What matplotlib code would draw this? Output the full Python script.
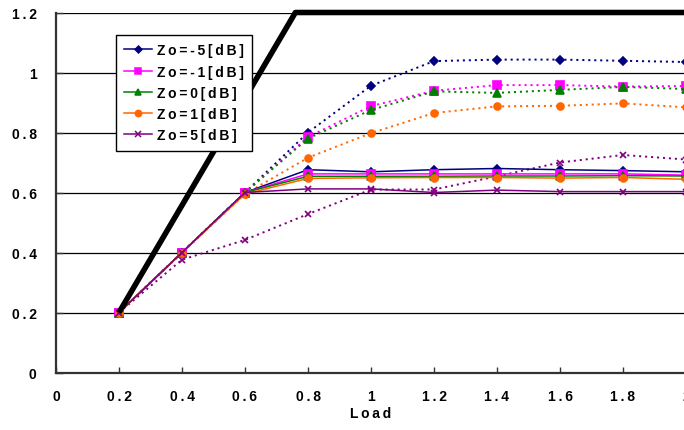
import matplotlib
matplotlib.use("Agg")
import matplotlib.pyplot as plt
from matplotlib.lines import Line2D

plt.rcParams['font.family'] = ['Liberation Sans', 'DejaVu Sans']
plt.rcParams['font.weight'] = 'bold'
plt.rcParams['lines.scale_dashes'] = False

# Load points
load = [0.2, 0.4, 0.6, 0.8, 1.0, 1.2, 1.4, 1.6, 1.8, 2.0]

# Upper limit line
limit_x = [0.2, 0.76, 2.0]
limit_y = [0.2, 1.2, 1.2]

labels = ["Zo=-5[dB]", "Zo=-1[dB]", "Zo=0[dB]", "Zo=1[dB]", "Zo=5[dB]"]
colors = ["#000080", "#FF00FF", "#008000", "#FF6600", "#800080"]
markers = ["D", "s", "^", "o", "x"]
msizes = [4.0, 5.5, 5.5, 5.0, 5.0]

# Solid curves
solid = [
    [0.2, 0.4, 0.6, 0.676, 0.669, 0.676, 0.680, 0.676, 0.673, 0.669],
    [0.2, 0.4, 0.6, 0.662, 0.662, 0.662, 0.662, 0.662, 0.662, 0.658],
    [0.2, 0.4, 0.6, 0.654, 0.654, 0.654, 0.655, 0.655, 0.656, 0.655],
    [0.2, 0.4, 0.595, 0.647, 0.649, 0.650, 0.650, 0.648, 0.650, 0.644],
    [0.2, 0.4, 0.6, 0.612, 0.612, 0.600, 0.608, 0.603, 0.603, 0.603],
]

# Dotted curves
dotted = [
    [0.2, 0.4, 0.6, 0.800, 0.956, 1.038, 1.043, 1.043, 1.039, 1.035],
    [0.2, 0.4, 0.6, 0.785, 0.888, 0.939, 0.958, 0.958, 0.953, 0.955],
    [0.2, 0.4, 0.6, 0.780, 0.875, 0.937, 0.932, 0.942, 0.952, 0.945],
    [0.2, 0.4, 0.595, 0.716, 0.798, 0.865, 0.887, 0.889, 0.897, 0.884],
    [0.2, 0.376, 0.442, 0.528, 0.610, 0.610, 0.654, 0.700, 0.725, 0.710],
]

xticks = [0, 0.2, 0.4, 0.6, 0.8, 1.0, 1.2, 1.4, 1.6, 1.8, 2.0]
xticklabels = ["0", "0.2", "0.4", "0.6", "0.8", "1", "1.2", "1.4", "1.6", "1.8", "2"]
yticks = [0, 0.2, 0.4, 0.6, 0.8, 1.0, 1.2]
yticklabels = ["0", "0.2", "0.4", "0.6", "0.8", "1", "1.2"]


def spaced(s):
    return "\u2009".join(s)


fig = plt.figure(figsize=(6.84, 4.31), dpi=100)
ax = fig.add_axes([56 / 684, 1 - 373.5 / 431, 630 / 684, 360 / 431])
ax.set_xlim(0, 2)
ax.set_ylim(0, 1.2)

for yv in yticks[1:]:
    ax.axhline(yv, color="black", lw=0.9, zorder=1)

for i in range(len(labels)):
    ax.plot(load, dotted[i], color=colors[i], lw=1.4, dashes=(1.5, 2.8),
            marker=markers[i], ms=msizes[i], mew=1.2, zorder=3)
for i in range(len(labels)):
    ax.plot(load, solid[i], color=colors[i], lw=1.1,
            marker=markers[i], ms=msizes[i], mew=1.2, zorder=3)

ax.plot(limit_x, limit_y, color="black", lw=4.0, solid_capstyle="butt",
        clip_on=False, zorder=4)

for side in ["left", "bottom"]:
    ax.spines[side].set_color("#333333")
    ax.spines[side].set_linewidth(1.6)
for side in ["top", "right"]:
    ax.spines[side].set_visible(False)

ax.set_xticks(xticks)
ax.set_xticklabels([spaced(t) for t in xticklabels], fontsize=10, fontweight="bold")
ax.set_yticks(yticks)
ax.set_yticklabels([spaced(t) for t in yticklabels], fontsize=10, fontweight="bold")
ax.tick_params(axis="x", direction="in", length=4, width=1, color="#333333", pad=12)
ax.tick_params(axis="y", direction="in", length=5, width=1, color="#333333", pad=14)
ax.set_xlabel(spaced("Load"), fontsize=10, fontweight="bold", labelpad=2)

handles = [Line2D([], [], color=colors[i], lw=1.1, marker=markers[i],
                  ms=msizes[i] - 0.5, mew=1.1) for i in range(len(labels))]
leg = fig.legend(handles, [spaced(l) for l in labels],
                 loc="upper left", bbox_to_anchor=(116 / 684, 1 - 36 / 431),
                 frameon=True, fancybox=False, framealpha=1, edgecolor="black",
                 prop={"size": 10, "weight": "bold"}, handlelength=2.0,
                 handletextpad=0.35, labelspacing=0.52, borderpad=0.6,
                 borderaxespad=0)
leg.get_frame().set_linewidth(1.0)
leg.set_zorder(10)

fig.savefig("out.png", dpi=100)
